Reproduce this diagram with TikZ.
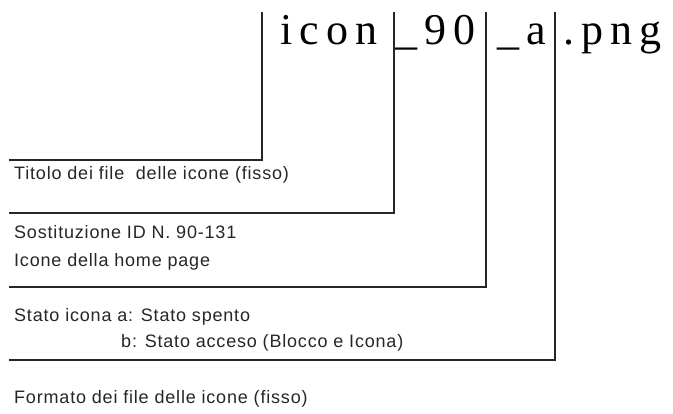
\documentclass[tikz,border=0pt]{standalone}
\usepackage{fontspec}
\setmainfont{Liberation Sans}
\newfontfamily\namefont[LetterSpace=16]{Liberation Serif}
\newfontfamily\labelfont[LetterSpace=4.5]{Liberation Sans}
\begin{document}
\begin{tikzpicture}[x=1pt, y=-1pt,
    bar/.style={line width=1.6pt, draw=black!85},
    part/.style={anchor=base west, inner sep=0pt, font=\namefont\fontsize{44}{44}\selectfont},
    label/.style={anchor=base west, inner sep=0pt, font=\labelfont\fontsize{18}{21}\selectfont, text=black!85}
]
    \useasboundingbox (0,0) rectangle (673,414);

    % file name, split in its four parts
    \node[part] (icon) at (280,45) {icon};
    \node[part] (num) at (395,45) {\textunderscore90};
    \node[part] (state) at (497,45) {\textunderscore a};
    \node[part] (ext) at (563,45) {.png};

    % captions
    \node[label] (titolo) at (14,180) {Titolo dei file\ \ delle icone (fisso)};
    \node[label] (sost) at (14,239) {Sostituzione ID N. 90-131};
    \node[label] (home) at (14,267) {Icone della home page};
    \node[label] (stato) at (14,322) {Stato icona a: Stato spento};
    \node[label] (statob) at (121,348) {b: Stato acceso (Blocco e Icona)};
    \node[label] (formato) at (14,403) {Formato dei file delle icone (fisso)};

    % bars between the parts, bent down to the captions
    \coordinate (top1) at (262,12);
    \coordinate (top2) at (394,12);
    \coordinate (top3) at (486,12);
    \coordinate (top4) at (555,12);
    \coordinate (end1) at (9,160);
    \coordinate (end2) at (9,213);
    \coordinate (end3) at (9,287);
    \coordinate (end4) at (9,360);

    \draw[bar] (top1) |- (end1);
    \draw[bar] (top2) |- (end2);
    \draw[bar] (top3) |- (end3);
    \draw[bar] (top4) |- (end4);
\end{tikzpicture}
\end{document}
